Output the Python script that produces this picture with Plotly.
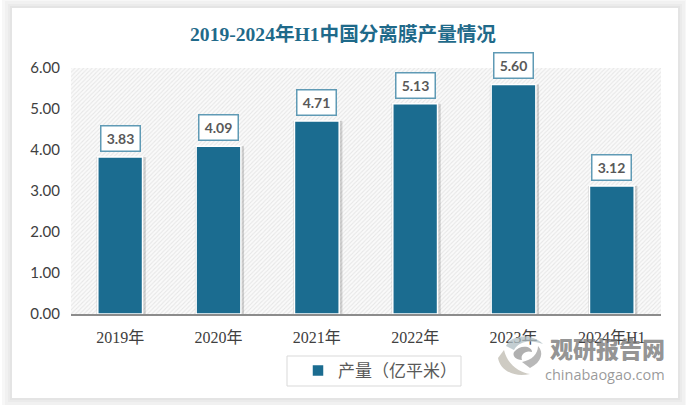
import re

import plotly.graph_objects as go

years = ["2019年", "2020年", "2021年", "2022年", "2023年", "2024年H1"]
output = [3.83, 4.09, 4.71, 5.13, 5.60, 3.12]
y_ticks = [0, 1, 2, 3, 4, 5, 6]
series_name = "产量（亿平米）"
title_text = "2019-2024年H1中国分离膜产量情况"

BAR = "#1b6c90"
TITLE = "#1f6a8a"
SERIF = "Liberation Serif, Noto Sans CJK SC"
SANS = "Lato, Open Sans"

W, H = 686, 405
L, R, T, B = 71, 661, 68, 314


# paper coordinates are relative to the plot area
def px(x):
    return (x - L) / (R - L)


def py(y):
    return (B - y) / (B - T)


def logo_path(d):
    out, is_x = [], True
    for p in re.findall(r"[MCZ]|\d+", d):
        if p.isdigit():
            out.append(f"{px(int(p)) if is_x else py(int(p)):.5f}")
            is_x = not is_x
        else:
            out.append(p)
    return " ".join(out)


fig = go.Figure()

# hatched plot background
fig.add_trace(go.Bar(x=[0], y=[6], width=[1], xaxis="x", yaxis="y", showlegend=False, hoverinfo="skip",
                     marker=dict(color="#ffffff", line_width=0,
                                 pattern=dict(shape="/", size=3, solidity=0.35, fgcolor="#d4d4d4", bgcolor="#fafafa"))))
# soft shadow behind the bars
fig.add_trace(go.Bar(x=years, y=output, width=0.5, xaxis="x2", yaxis="y", showlegend=False, hoverinfo="skip",
                     marker=dict(color="rgba(0,0,0,0.16)", line_width=0)))
fig.add_trace(go.Bar(x=years, y=output, width=0.455, xaxis="x3", yaxis="y", name=series_name,
                     marker=dict(color=BAR, line=dict(color="#ffffff", width=1.5))))

for cat, val in zip(years, output):
    fig.add_annotation(x=cat, y=val, xref="x3", yref="y", yshift=5, yanchor="bottom", showarrow=False,
                       text=f"<b>{val:.2f}</b>", font=dict(family=SANS, size=14, color="#595959"),
                       bgcolor="#ffffff", bordercolor="#5f9ab5", borderwidth=1.5, width=36, height=22)

# watermark
fig.add_annotation(x=px(607), y=py(348), xref="paper", yref="paper", xanchor="center", yanchor="middle",
                   showarrow=False, text="观研报告网",
                   font=dict(family="Noto Sans CJK SC", size=23, weight=900, color="rgba(120,120,120,0.8)"))
fig.add_annotation(x=px(605), y=py(374), xref="paper", yref="paper", xanchor="center", yanchor="middle",
                   showarrow=False, text="chinabaogao.com",
                   font=dict(family="Open Sans", size=14.5, color="rgba(120,120,120,0.75)"))

shapes = []
# card shadow, then the white card
for grow, colour in [(10, "#f7f7f7"), (7, "#f1f1f1"), (4, "#ebebeb"), (2, "#e4e4e4")]:
    shapes.append(dict(type="rect", xref="paper", yref="paper", layer="below", line_width=0, fillcolor=colour,
                       x0=px(12 - grow), x1=px(678 + grow), y0=py(398 + grow), y1=py(8 - grow)))
shapes.append(dict(type="rect", xref="paper", yref="paper", layer="below", line_width=0, fillcolor="#ffffff",
                   x0=px(12), x1=px(678), y0=py(398), y1=py(8)))
# legend box
shapes.append(dict(type="rect", xref="paper", yref="paper", layer="below", fillcolor="#ffffff",
                   line=dict(color="#d9d9d9", width=1), x0=px(287), x1=px(461), y0=py(386), y1=py(356)))
# watermark logo
for d, colour in [
    ("M 498 358 C 500 370 514 378 530 374 C 520 372 508 366 504 350 Z", "rgba(190,185,175,0.75)"),
    ("M 506 346 C 510 336 530 332 543 344 C 532 340 520 340 514 350 Z", "rgba(175,190,195,0.75)"),
    ("M 530 368 C 542 362 544 352 538 346 C 538 354 532 360 522 362 Z", "rgba(160,160,160,0.75)"),
    ("M 514 352 C 520 344 532 346 532 352 C 526 350 520 354 522 360 C 516 360 512 356 514 352 Z", "rgba(150,150,150,0.75)"),
]:
    shapes.append(dict(type="path", xref="paper", yref="paper", layer="above", line_width=0, fillcolor=colour,
                       path=logo_path(d)))

fig.update_layout(
    width=W, height=H,
    margin=dict(l=L, r=W - R, t=T, b=H - B, pad=0),
    paper_bgcolor="#ffffff",
    plot_bgcolor="rgba(0,0,0,0)",
    barmode="overlay",
    title=dict(text=f"<b>{title_text}</b>", x=343 / W, xanchor="center", y=1 - 34 / H, yanchor="middle",
               font=dict(family=SERIF, size=19.6, color=TITLE)),
    shapes=shapes,
    showlegend=True,
    legend=dict(orientation="h", x=px(298), xanchor="left", y=py(371), yanchor="middle", bgcolor="rgba(0,0,0,0)",
                font=dict(family=SERIF, size=17, color="#595959")),
    xaxis=dict(domain=[0, 1], range=[-0.5, 0.5], visible=False),
    xaxis2=dict(overlaying="x", range=[-0.51, 5.49], visible=False, type="category",
                categoryorder="array", categoryarray=years),
    xaxis3=dict(overlaying="x", range=[-0.5, 5.5], type="category", categoryorder="array", categoryarray=years,
                ticks="", showline=True, linecolor="#8c8c8c", linewidth=1.5, showgrid=False, ticklabelstandoff=8,
                tickfont=dict(family=SERIF, size=16, color="#404040"), side="bottom", anchor="y"),
    yaxis=dict(range=[0, 6], tickvals=y_ticks, tickformat=".2f", showgrid=False, zeroline=False, ticks="",
               ticklabelstandoff=10, tickfont=dict(family=SANS, size=15, color="#404040")),
)

fig.write_html("out.html", config=dict(displayModeBar=False), post_script="document.body.style.margin = '0';")
